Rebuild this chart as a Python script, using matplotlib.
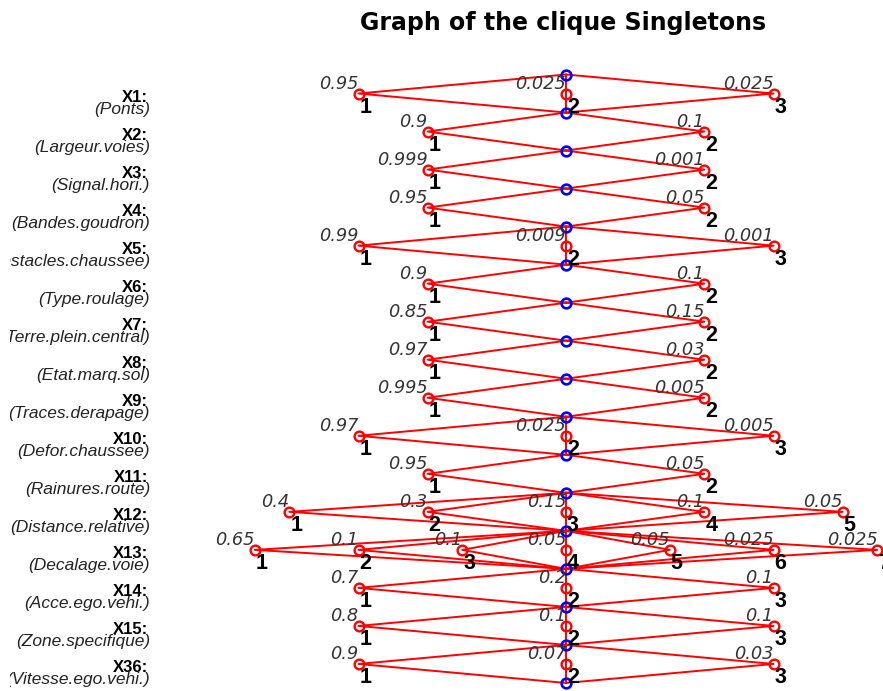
import matplotlib.pyplot as plt

plt.rcParams['font.family'] = ['Liberation Sans', 'DejaVu Sans']

title = "Graph of the clique Singletons"
var_ids = ["X1", "X2", "X3", "X4", "X5", "X6", "X7", "X8",
           "X9", "X10", "X11", "X12", "X13", "X14", "X15", "X36"]
var_names = ["Ponts", "Largeur.voies", "Signal.hori.", "Bandes.goudron",
             "Obstacles.chaussee", "Type.roulage", "Terre.plein.central",
             "Etat.marq.sol", "Traces.derapage", "Defor.chaussee",
             "Rainures.route", "Distance.relative", "Decalage.voie",
             "Acce.ego.vehi.", "Zone.specifique", "Vitesse.ego.vehi."]
probs = [
    [0.95, 0.025, 0.025],
    [0.9, 0.1],
    [0.999, 0.001],
    [0.95, 0.05],
    [0.99, 0.009, 0.001],
    [0.9, 0.1],
    [0.85, 0.15],
    [0.97, 0.03],
    [0.995, 0.005],
    [0.97, 0.025, 0.005],
    [0.95, 0.05],
    [0.4, 0.3, 0.15, 0.1, 0.05],
    [0.65, 0.1, 0.1, 0.05, 0.05, 0.025, 0.025],
    [0.7, 0.2, 0.1],
    [0.8, 0.1, 0.1],
    [0.9, 0.07, 0.03],
]

fig = plt.figure(figsize=(8.83, 6.91), dpi=100)
# axes start a few pixels in from the left, long labels get clipped there
ax = fig.add_axes([10 / 883, 0, 873 / 883, 1])
ax.set_xlim(-141 / 830, 732 / 830)
ax.set_ylim(16.711, -1.459)
ax.axis('off')

red = '#ff0000'
blue = '#0000ff'

# separator (blue) nodes between variables
sep_y = [0.5 + i for i in range(len(probs) + 1)]

for i, p in enumerate(probs):
    y = i + 1
    n = len(p)
    for k, pk in enumerate(p):
        x = (k + 1) / (n + 1)
        ax.plot([0.5, x, 0.5], [y - 0.5, y, y + 0.5], color=red, lw=1.4,
                zorder=1)
        ax.plot(x, y, 'o', ms=7, mfc='none', mec=red, mew=1.7, zorder=2)
        ax.annotate('%g' % pk, (x, y), xytext=(0, 5), textcoords='offset pixels',
                    ha='right', va='baseline', fontsize=12.8, style='italic',
                    family='DejaVu Sans', color='#333333', zorder=4)
        ax.annotate(str(k + 1), (x, y), xytext=(1, -19), textcoords='offset pixels',
                    ha='left', va='baseline', fontsize=15.5, fontweight='bold',
                    color='black', zorder=4)
    ax.annotate(var_ids[i] + ':', (-1 / 830, y), xytext=(-2, -8),
                textcoords='offset pixels', ha='right', va='baseline',
                fontsize=12, fontweight='bold', annotation_clip=False,
                clip_on=True)
    ax.annotate('(' + var_names[i] + ')', (-1 / 830, y), xytext=(0, -20),
                textcoords='offset pixels', ha='right', va='baseline',
                fontsize=12.5, style='italic', color='#222222',
                annotation_clip=False, clip_on=True)

ax.plot([0.5] * len(sep_y), sep_y, 'o', ls='none', ms=7, mfc='none', mec=blue,
        mew=1.9, zorder=3)

fig.text(563 / 883, 1 - 30 / 691, title, ha='center', va='baseline',
         fontsize=17, fontweight='bold', family='DejaVu Sans')

fig.savefig('out.png', dpi=100)
